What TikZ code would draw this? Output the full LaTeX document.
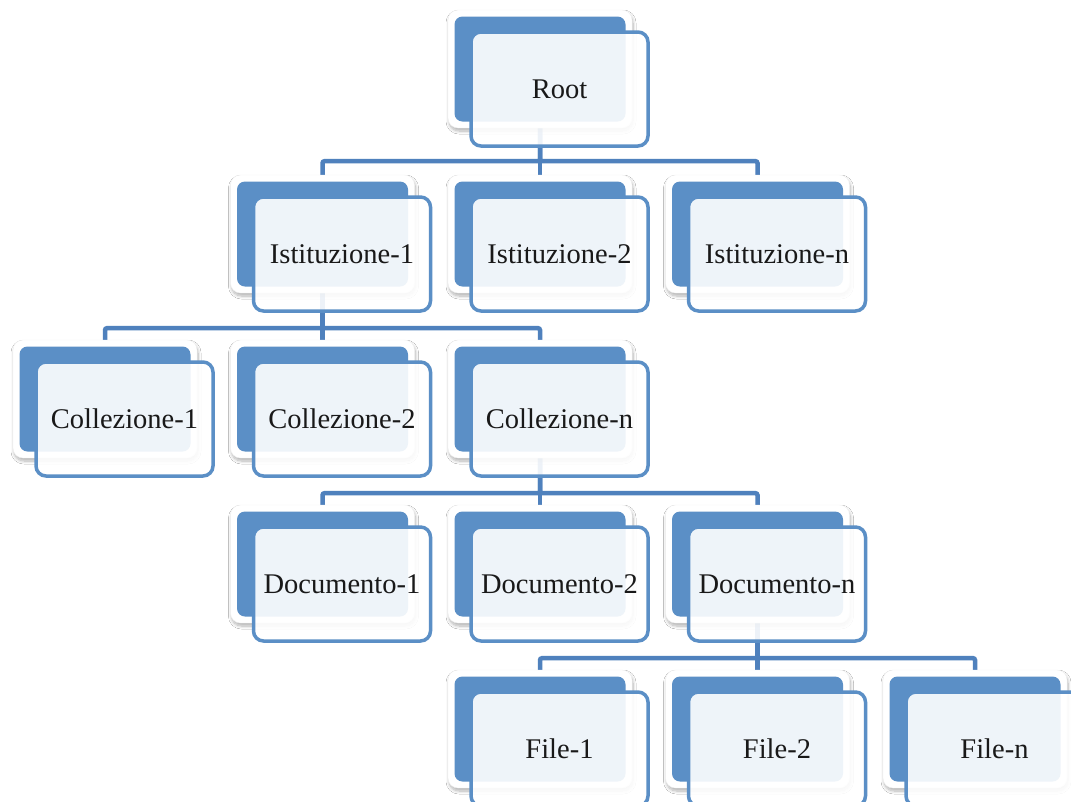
\documentclass[tikz,border=0pt]{standalone}
\usepackage{fontspec}
\setmainfont{Liberation Serif}
\usetikzlibrary{shadows.blur,calc}
\definecolor{cardblue}{RGB}{91,143,198}
\definecolor{linkblue}{RGB}{79,129,189}
\pgfdeclarelayer{bg}\pgfsetlayers{bg,main}
\tikzset{
  backcard/.style={draw=black!6, line width=0.4pt, fill=white, rounded corners=10pt,
    minimum width=184pt, minimum height=118pt, inner sep=0pt,
    blur shadow={shadow xshift=1pt, shadow yshift=-3pt, shadow blur radius=3pt,
      shadow opacity=30, shadow blur steps=8}},
  blueinner/.style={fill=cardblue, rounded corners=8pt, minimum width=171pt,
    minimum height=105pt, inner sep=0pt},
  frontcard/.style={draw=cardblue, line width=3.5pt, fill=white, fill opacity=0.9,
    text opacity=1, rounded corners=10pt, minimum width=177pt, minimum height=114pt,
    inner sep=0pt, font=\fontsize{28.5}{34}\selectfont, text=black!90},
  conn/.style={draw=linkblue, line width=4.5pt, rounded corners=2pt},
}
\newcommand\mycard[4]{%
  \node[backcard] (#1-b) at (#2,#3+59) {};
  \node[blueinner] (#1-i) at (#1-b.center) {};
  \node[frontcard] (#1) at ($(#1-b.center)+(19.5,20)$) {\raisebox{-3pt}{#4}};
}
\begin{document}
\begin{tikzpicture}[x=1pt,y=-1pt]
\useasboundingbox (0,0) rectangle (1071,801);
\clip (0,0) rectangle (1071,801);
% level 0
\mycard{root}{540}{10}{Root}
% level 1
\mycard{ist1}{322.5}{175}{Istituzione-1}
\mycard{ist2}{540}{175}{Istituzione-2}
\mycard{istn}{757.5}{175}{Istituzione-n}
% level 2
\mycard{col1}{105}{340}{Collezione-1}
\mycard{col2}{322.5}{340}{Collezione-2}
\mycard{coln}{540}{340}{Collezione-n}
% level 3
\mycard{doc1}{322.5}{505}{Documento-1}
\mycard{doc2}{540}{505}{Documento-2}
\mycard{docn}{757.5}{505}{Documento-n}
% level 4
\mycard{file1}{540}{670}{File-1}
\mycard{file2}{757.5}{670}{File-2}
\mycard{filen}{975}{670}{File-n}
\begin{pgfonlayer}{bg}
  \fill[white] (0,0) rectangle (1071,801);
  \foreach \c in {ist1,ist2,istn}
    \draw[conn] (root-b.south) -- ++(0,33) -| (\c-b.north);
  \foreach \c in {col1,col2,coln}
    \draw[conn] (ist1-b.south) -- ++(0,35) -| (\c-b.north);
  \foreach \c in {doc1,doc2,docn}
    \draw[conn] (coln-b.south) -- ++(0,35) -| (\c-b.north);
  \foreach \c in {file1,file2,filen}
    \draw[conn] (docn-b.south) -- ++(0,35) -| (\c-b.north);
\end{pgfonlayer}
\end{tikzpicture}
\end{document}
